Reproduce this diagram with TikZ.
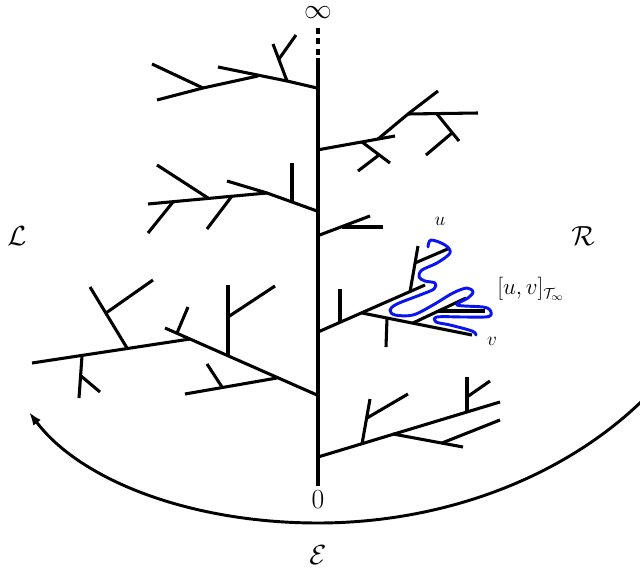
\documentclass[tikz,border=0pt]{standalone}
\usepackage{amsmath,amssymb}
\usetikzlibrary{arrows.meta}
\definecolor{cInk}{HTML}{000000}
\definecolor{cTour}{HTML}{0A14F0}
\tikzset{
  biglab/.style={font=\fontsize{20}{24}\selectfont, text=cInk, inner sep=0pt},
  smalllab/.style={font=\fontsize{14}{17}\selectfont, text=cInk, inner sep=0pt},
}

\begin{document}
\begin{tikzpicture}[
  x=0.75pt, y=-0.75pt,
  branch/.style={draw=cInk, line width=2.3pt, line join=round},
  toinfty/.style={branch, dash pattern=on 4.5pt off 3.5pt},
  tour/.style={draw=cTour, line width=2.2pt, line join=round, line cap=round},
  sweep/.style={draw=cInk, line width=2.2pt, -{Latex[length=10pt,width=7pt]}},
]
\useasboundingbox (0,0) rectangle (640,575);
% ---------------------------------------------------------------- spine
\draw[branch] (318,486) -- (318,58);
\draw[toinfty] (318,55) -- (318,25);
\node[biglab, anchor=north] (inf) at (318,6) {$\infty$};
\node[biglab] (root) at (318,500) {$0$};
% ---------------------------------------------------------------- top left
\draw[branch] (317,88) -- (287,81) -- (218,67);
\draw[branch] (287,81) -- (273,44);
\draw[branch] (279,59) -- (296,35);
\draw[branch] (258,76) -- (203,88) -- (157,100);
\draw[branch] (203,88) -- (152,64);
% ---------------------------------------------------------------- top right
\draw[branch] (317,150) -- (395,136);
\draw[branch] (378,139) -- (408,114) -- (438,91);
\draw[branch] (408,114) -- (478,113);
\draw[branch] (437,114) -- (459,141);
\draw[branch] (452,133) -- (426,155);
\draw[branch] (362,142) -- (390,163);
\draw[branch] (379,155) -- (358,171);
% ---------------------------------------------------------------- middle left
\draw[branch] (317,211) -- (267,193) -- (227,181);
\draw[branch] (292,202) -- (292,163);
\draw[branch] (267,193) -- (148,204);
\draw[branch] (208,198) -- (157,165);
\draw[branch] (232,196) -- (207,229);
\draw[branch] (173,202) -- (148,233);
% ---------------------------------------------------------------- small right
\draw[branch] (317,236) -- (370,216);
\draw[branch] (342,227) -- (383,227);
% ---------------------------------------------------------------- subtree with u and v
\draw[branch] (318,332) -- (425,285);
\draw[branch] (340,322) -- (340,289);
\draw[branch] (410,292) -- (418,246);
\draw[branch] (415,263) -- (450,248);
\draw[branch] (362,313) -- (472,335);
\draw[branch] (387,318) -- (386,347);
\draw[branch] (413,323) -- (466,298);
\draw[branch] (438,311) -- (485,311);
% ---------------------------------------------------------------- lower left
\draw[branch] (317,395) -- (165,328);
\draw[branch] (190,339) -- (32,363);
\draw[branch] (228,356) -- (228,285);
\draw[branch] (228,317) -- (275,286);
\draw[branch] (277,378) -- (185,394);
\draw[branch] (222,387) -- (207,364);
\draw[branch] (177,333) -- (188,307);
\draw[branch] (127,348) -- (90,287);
\draw[branch] (106,313) -- (153,280);
\draw[branch] (82,356) -- (79,398);
\draw[branch] (81,376) -- (100,392);
% ---------------------------------------------------------------- lower right
\draw[branch] (318,457) -- (500,402);
\draw[branch] (362,444) -- (370,399);
\draw[branch] (367,418) -- (408,394);
\draw[branch] (393,434) -- (463,447);
\draw[branch] (442,443) -- (500,420);
\draw[branch] (467,412) -- (467,377);
\draw[branch] (467,397) -- (490,381);
% ---------------------------------------------------------------- path from u to v
\draw[tour] plot[smooth, tension=0.55] coordinates {
  (428,247) (431,240) (445,245) (450,253) (437,263) (422,270) (419,277)
  (425,281) (435,283) (434,289) (420,295) (397,304) (390,310) (395,315)
  (413,315) (433,305) (453,293) (467,288) (473,292) (468,298) (457,305)
  (483,307) (490,310) (491,315) (485,317) (463,317) (437,317) (436,322)
  (450,325) (472,331) (476,335)};
\node[smalllab] (u) at (440,221) {$u$};
\node[smalllab] (v) at (492,341) {$v$};
\node[smalllab, anchor=west, font=\fontsize{16}{19}\selectfont] (uv) at (497,289)
  {$[u,v]_{\mathcal{T}_\infty}$};
% ---------------------------------------------------------------- sides
\node[biglab] (left) at (17,236) {$\mathcal{L}$};
\node[biglab] (right) at (583,236) {$\mathcal{R}$};
\node[biglab] (expl) at (318,555) {$\mathcal{E}$};
\draw[sweep] (642,401) .. controls (560,480) and (440,523) .. (318,523)
  .. controls (190,523) and (80,480) .. (29,412);
\end{tikzpicture}
\end{document}
